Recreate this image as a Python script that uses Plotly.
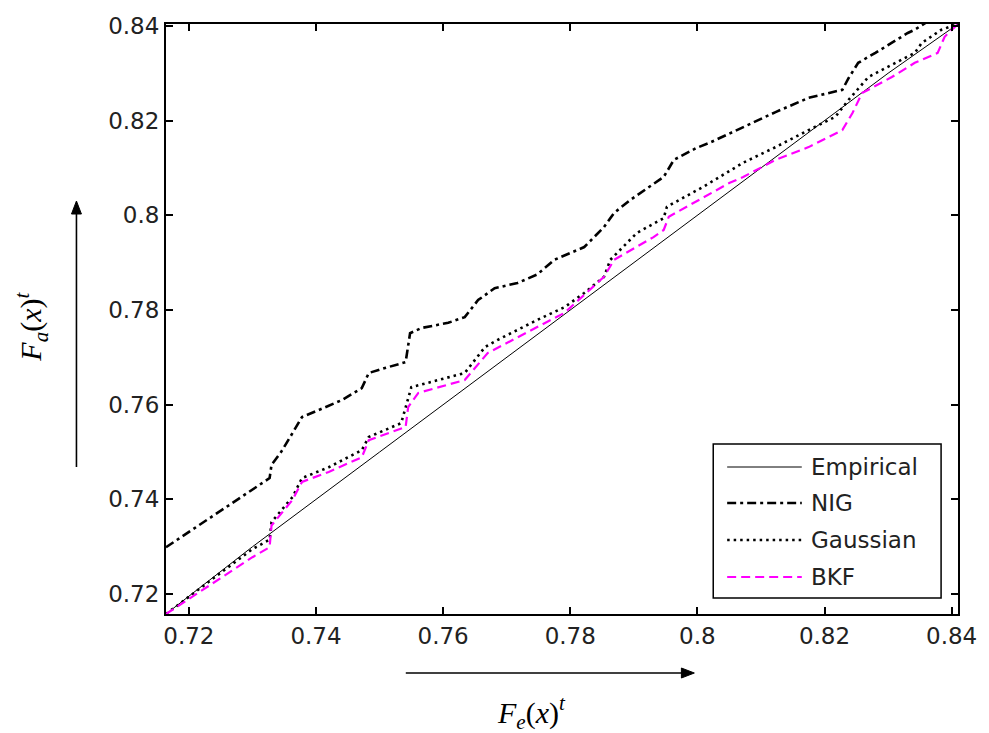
import plotly.graph_objects as go

# Reference line: empirical CDF against itself
emp_x = [0.7164, 0.73, 0.75, 0.77, 0.79, 0.81, 0.83, 0.841]
emp_y = [0.7158, 0.73, 0.75, 0.77, 0.79, 0.81, 0.83, 0.8404]

nig_x = [0.7164, 0.7200, 0.7250, 0.7300, 0.7327, 0.7330, 0.7345, 0.7363, 0.7378, 0.7410,
         0.7441, 0.7472, 0.7483, 0.7510, 0.7541, 0.7548, 0.7566, 0.7608, 0.7634, 0.7655,
         0.7681, 0.7717, 0.7748, 0.7775, 0.7822, 0.7853, 0.7869, 0.7894, 0.7925, 0.7947,
         0.7963, 0.7998, 0.8019, 0.8072, 0.8123, 0.8175, 0.8228, 0.8238, 0.8253, 0.8280,
         0.8331, 0.8342, 0.8375]
nig_y = [0.7299, 0.7331, 0.7376, 0.7421, 0.7445, 0.7473, 0.7500, 0.7540, 0.7574, 0.7592,
         0.7610, 0.7635, 0.7667, 0.7678, 0.7690, 0.7751, 0.7762, 0.7773, 0.7785, 0.7821,
         0.7846, 0.7857, 0.7875, 0.7906, 0.7933, 0.7975, 0.8005, 0.8032, 0.8060, 0.8081,
         0.8117, 0.8142, 0.8153, 0.8187, 0.8218, 0.8248, 0.8265, 0.8290, 0.8322, 0.8343,
         0.8385, 0.8392, 0.8420]

gau_x = [0.7164, 0.7200, 0.7250, 0.7300, 0.7327, 0.7330, 0.7345, 0.7363, 0.7378, 0.7420,
         0.7472, 0.7483, 0.7534, 0.7545, 0.7550, 0.7634, 0.7666, 0.7686, 0.7748, 0.7791,
         0.7822, 0.7853, 0.7863, 0.7905, 0.7947, 0.7952, 0.8009, 0.8072,
         0.8123, 0.8175, 0.8217, 0.8238, 0.8269, 0.8306, 0.8342, 0.8353, 0.8384, 0.8410]
gau_y = [0.7158, 0.7195, 0.7245, 0.7295, 0.7315, 0.7352, 0.7375, 0.7405, 0.7445, 0.7468,
         0.7504, 0.7532, 0.7561, 0.7610, 0.7637, 0.7667, 0.7722, 0.7737, 0.7779, 0.7806,
         0.7836, 0.7870, 0.7906, 0.7963, 0.7994, 0.8018, 0.8060, 0.8111,
         0.8144, 0.8180, 0.8208, 0.8244, 0.8292, 0.8318, 0.8343, 0.8364, 0.8392, 0.8404]

bkf_x = [0.7164, 0.7200, 0.7250, 0.7300, 0.7327, 0.7330, 0.7363, 0.7378, 0.7420, 0.7472,
         0.7483, 0.7541, 0.7545, 0.7561, 0.7634, 0.7670, 0.7748, 0.7791, 0.7853, 0.7869,
         0.7931, 0.7947, 0.7955, 0.8050, 0.8072, 0.8123, 0.8175, 0.8228,
         0.8244, 0.8259, 0.8306, 0.8342, 0.8378, 0.8389, 0.8405, 0.8410]
bkf_y = [0.7158, 0.7190, 0.7235, 0.7278, 0.7299, 0.7345, 0.7399, 0.7437, 0.7458, 0.7489,
         0.7525, 0.7553, 0.7595, 0.7625, 0.7652, 0.7709, 0.7764, 0.7794, 0.7870, 0.7906,
         0.7954, 0.7969, 0.7997, 0.8068, 0.8081, 0.8117, 0.8144, 0.8180,
         0.8216, 0.8258, 0.8292, 0.8322, 0.8343, 0.8377, 0.8398, 0.8404]

tick_vals = [0.72, 0.74, 0.76, 0.78, 0.80, 0.82, 0.84]
tick_text = ["0.72", "0.74", "0.76", "0.78", "0.8", "0.82", "0.84"]

series_names = ["Empirical", "NIG", "Gaussian", "BKF"]
series_lines = [
    dict(color="black", width=1),
    dict(color="black", width=2.6, dash="9px,4px,3px,4px"),
    dict(color="black", width=2.6, dash="2.5px,4px"),
    dict(color="#ff00ff", width=2.2, dash="9px,5px"),
]
series_data = [(emp_x, emp_y), (nig_x, nig_y), (gau_x, gau_y), (bkf_x, bkf_y)]

fig = go.Figure()
for name, (xs, ys), ln in zip(series_names, series_data, series_lines):
    fig.add_trace(go.Scatter(x=xs, y=ys, mode="lines", name=name, line=ln,
                             showlegend=False))

sans = "DejaVu Sans, Arial"
axis_common = dict(
    showline=True, linecolor="black", linewidth=2, mirror="ticks",
    ticks="inside", ticklen=7, tickwidth=1.5, tickcolor="black",
    showgrid=False, zeroline=False,
    tickvals=tick_vals, ticktext=tick_text,
    tickfont=dict(family=sans, size=23, color="#222"),
)
fig.update_xaxes(range=[0.7164, 0.841], **axis_common)
fig.update_yaxes(range=[0.7158, 0.8404], **axis_common)

W, H = 989, 733
L, R, T, B = 166, 27, 24, 119
pw, ph = W - L - R, H - T - B

def px(xp):
    return (xp - L) / pw

def py(yp):
    return (H - B - yp) / ph

shapes = []

# legend box with long line keys
shapes.append(dict(type="rect", xref="paper", yref="paper",
                   x0=px(716), x1=px(945), y0=py(598), y1=py(444),
                   line=dict(color="black", width=1.5), fillcolor="white", layer="above"))
legend_rows = [467, 503, 540, 577]
annotations = []
for name, ln, yr in zip(series_names, series_lines, legend_rows):
    shapes.append(dict(type="line", xref="paper", yref="paper",
                       x0=px(730), x1=px(805), y0=py(yr), y1=py(yr),
                       line=ln, layer="above"))
    annotations.append(dict(xref="paper", yref="paper", x=px(812), y=py(yr),
                            xanchor="left", yanchor="middle", text=name,
                            showarrow=False,
                            font=dict(family=sans, size=23, color="#222")))

# direction arrows beside the axis titles
arrow = dict(color="black", width=1.6)
shapes.append(dict(type="line", xref="paper", yref="paper",
                   x0=px(407), x1=px(686), y0=py(673), y1=py(673), line=arrow))
shapes.append(dict(type="path", xref="paper", yref="paper",
                   path=f"M {px(684)},{py(668)} L {px(697)},{py(673)} L {px(684)},{py(678)} Z",
                   fillcolor="black", line=dict(color="black", width=1)))
shapes.append(dict(type="line", xref="paper", yref="paper",
                   x0=px(76), x1=px(76), y0=py(467), y1=py(212), line=arrow))
shapes.append(dict(type="path", xref="paper", yref="paper",
                   path=f"M {px(71)},{py(214)} L {px(76)},{py(201)} L {px(81)},{py(214)} Z",
                   fillcolor="black", line=dict(color="black", width=1)))

label_font = dict(family="Liberation Serif, DejaVu Serif, serif", size=30, color="black")
annotations.append(dict(xref="paper", yref="paper", x=px(533), y=py(712),
                        xanchor="center", yanchor="middle",
                        text="<i>F<sub>e</sub></i>(<i>x</i>)<sup><i>t</i></sup>",
                        showarrow=False, font=label_font))
annotations.append(dict(xref="paper", yref="paper", x=px(30), y=py(327),
                        xanchor="center", yanchor="middle",
                        text="<i>F<sub>a</sub></i>(<i>x</i>)<sup><i>t</i></sup>",
                        showarrow=False, textangle=-90, font=label_font))

fig.update_layout(
    width=W, height=H,
    margin=dict(l=L, r=R, t=T, b=B),
    paper_bgcolor="white", plot_bgcolor="white",
    shapes=shapes, annotations=annotations,
)

fig.write_html("out.html")
